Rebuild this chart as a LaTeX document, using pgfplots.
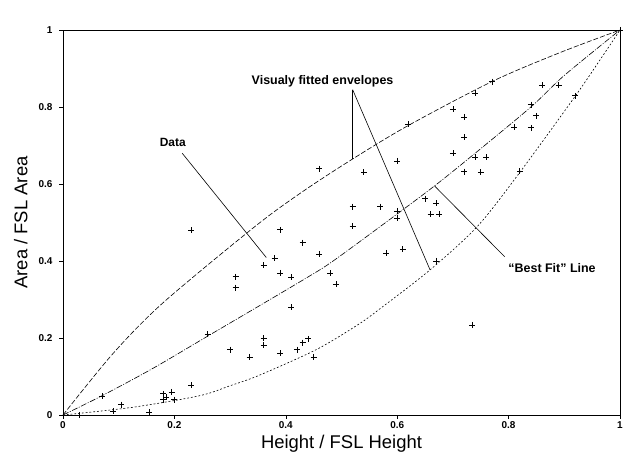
\documentclass[border=0pt]{standalone}
\usepackage{fontspec}
\setmainfont{Liberation Sans}
\usepackage{pgfplots}
\pgfplotsset{compat=1.18}
\begin{document}
\begin{tikzpicture}[x=1bp,y=1bp]
\useasboundingbox (-63,-40) rectangle (562,415);
\begin{axis}[
  at={(0,0)}, anchor=south west,
  scale only axis, width=557bp, height=385bp,
  xmin=0, xmax=1, ymin=0, ymax=1,
  xtick={0,0.2,0.4,0.6,0.8,1}, ytick={0,0.2,0.4,0.6,0.8,1},
  tick pos=left, tick align=outside, major tick length=4bp,
  axis line style={line width=0.8bp},
  tick style={line width=0.6bp, black},
  tick label style={font=\fontsize{10}{11}\selectfont\bfseries},
  xticklabel style={yshift=1bp},
  yticklabel style={xshift=-3bp},
  /pgf/number format/assume math mode=true,
  xlabel={Height / FSL Height}, ylabel={Area / FSL Area},
  label style={font=\fontsize{18.5}{20}\selectfont},
  xlabel style={at={(axis description cs:0.5,-0.074)}, anchor=center},
  ylabel style={at={(axis description cs:-0.076,0.5)}, anchor=center},
  clip=false,
]
% upper envelope
\addplot[smooth, line width=0.6bp, dash pattern=on 5bp off 2bp] coordinates {
 (0,0) (0.09,0.16) (0.18,0.292) (0.345,0.49) (0.43,0.58) (0.52,0.665)
 (0.62,0.752) (0.77,0.866) (0.89,0.94) (1,1)};
% best fit
\addplot[smooth, line width=0.6bp, dash pattern=on 6bp off 1.5bp on 1bp off 1.5bp] coordinates {
 (0,0) (0.07,0.05) (0.16,0.12) (0.26,0.205) (0.36,0.29) (0.43,0.35) (0.48,0.395)
 (0.57,0.49) (0.667,0.595) (0.74,0.68) (0.84,0.80) (0.90,0.882) (1,1)};
% lower envelope
\addplot[smooth, line width=0.6bp, dash pattern=on 1.8bp off 2bp] coordinates {
 (0,0) (0.125,0.02) (0.245,0.05) (0.30,0.076) (0.352,0.103) (0.455,0.17)
 (0.53,0.235) (0.57,0.277) (0.659,0.377) (0.744,0.49) (0.82,0.63)
 (0.92,0.829) (0.97,0.935) (1,1)};
% data
\addplot[only marks, mark=+, mark size=3bp, mark options={line width=0.7bp}] coordinates {
 (0,0) (1,1)
 (0.23,0.48) (0.46,0.64) (0.54,0.63) (0.60,0.66) (0.62,0.755) (0.70,0.68)
 (0.70,0.794) (0.72,0.774) (0.72,0.722) (0.74,0.836) (0.77,0.866) (0.86,0.857)
 (0.89,0.856) (0.92,0.829) (0.84,0.806) (0.85,0.777) (0.81,0.748) (0.84,0.746)
 (0.74,0.670) (0.76,0.669) (0.72,0.632) (0.75,0.630) (0.82,0.633)
 (0.52,0.541) (0.57,0.541) (0.60,0.530) (0.60,0.512) (0.65,0.562) (0.67,0.550)
 (0.66,0.522) (0.675,0.522) (0.52,0.491) (0.58,0.421) (0.61,0.431) (0.67,0.400)
 (0.735,0.234)
 (0.39,0.481) (0.43,0.448) (0.46,0.418) (0.38,0.408) (0.36,0.389) (0.31,0.359)
 (0.31,0.331) (0.39,0.369) (0.41,0.358) (0.48,0.368) (0.49,0.339) (0.41,0.280)
 (0.26,0.210) (0.36,0.199) (0.36,0.181) (0.30,0.170) (0.335,0.151) (0.39,0.161)
 (0.42,0.170) (0.43,0.188) (0.44,0.198) (0.45,0.151)
 (0.23,0.077) (0.18,0.055) (0.185,0.047) (0.18,0.040) (0.195,0.060) (0.20,0.040)
 (0.07,0.049) (0.105,0.027) (0.09,0.010) (0.155,0.007) (0.03,0.0)};
% annotations
\node[font=\fontsize{12.5}{14}\selectfont\bfseries] at (axis cs:0.466,0.868) {Visualy fitted envelopes};
\draw[line width=0.6bp] (axis cs:0.52,0.845) -- (axis cs:0.52,0.665);
\draw[line width=0.6bp] (axis cs:0.52,0.845) -- (axis cs:0.659,0.377);
\node[font=\fontsize{12}{14}\selectfont\bfseries] at (axis cs:0.197,0.707) {Data};
\draw[line width=0.6bp] (axis cs:0.214,0.680) -- (axis cs:0.365,0.409);
\node[font=\fontsize{12.5}{14}\selectfont\bfseries] at (axis cs:0.878,0.381) {“Best Fit” Line};
\draw[line width=0.6bp] (axis cs:0.793,0.411) -- (axis cs:0.667,0.595);
\end{axis}
\end{tikzpicture}
\end{document}
